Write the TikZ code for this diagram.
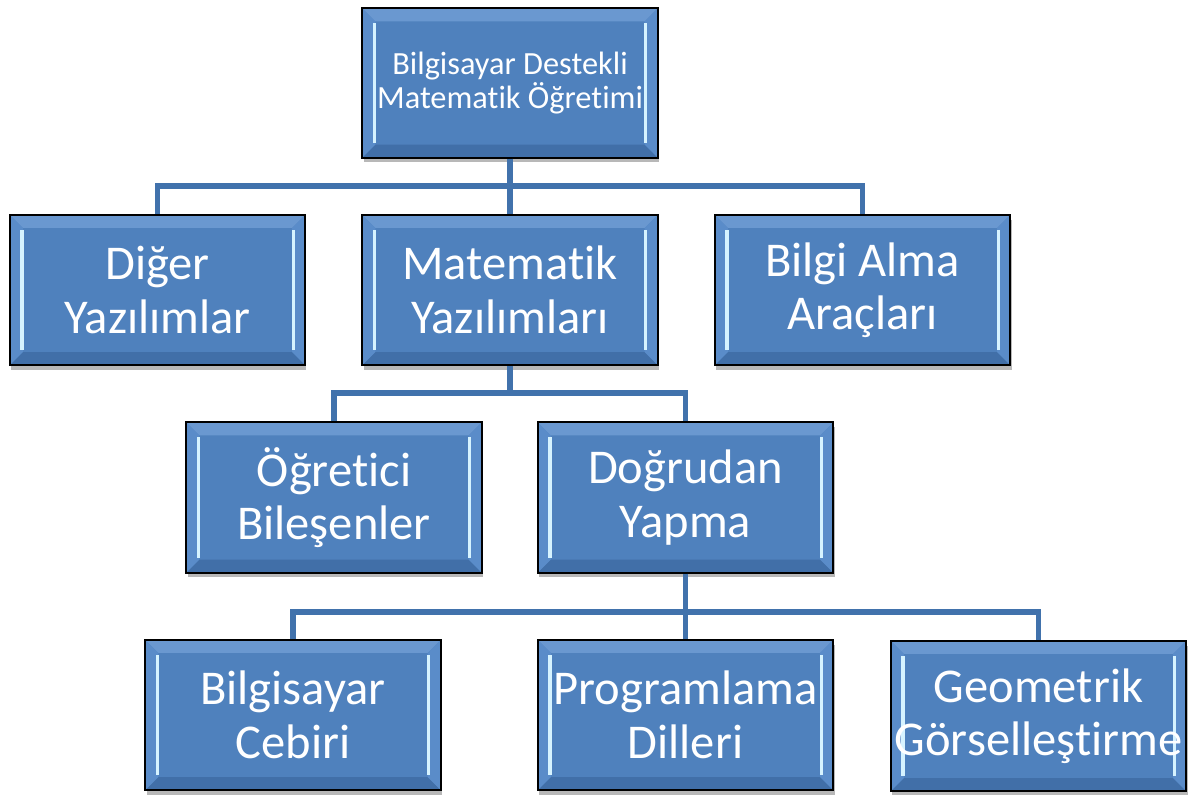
\documentclass[tikz,border=0pt]{standalone}
\usepackage{fontspec}
\setmainfont{Carlito}[Ligatures={NoCommon}]
\usetikzlibrary{shadows}

\definecolor{boxblue}{HTML}{4F81BD}
\definecolor{bevtop}{HTML}{6A98D0}
\definecolor{bevside}{HTML}{5A8CC9}
\definecolor{bevbot}{HTML}{416FA8}
\definecolor{glint}{HTML}{D6F3FF}
\definecolor{linkblue}{HTML}{4172AC}

\newcommand\bigtext{\fontsize{13.8}{15.2}\selectfont}
\newcommand\smalltext{\fontsize{9.2}{9.5}\selectfont}

\tikzset{
  bevelbox/.style={
    rectangle, minimum width=2.95cm, minimum height=1.5cm, inner sep=1pt,
    fill=boxblue, draw=black, line width=0.55pt, text=white,
    align=center, font=\bigtext,
    drop shadow={shadow xshift=0.4pt, shadow yshift=-1.3pt,
                 fill=black, opacity=0.28},
    path picture={
      \coordinate (bvNW) at (path picture bounding box.north west);
      \coordinate (bvNE) at (path picture bounding box.north east);
      \coordinate (bvSW) at (path picture bounding box.south west);
      \coordinate (bvSE) at (path picture bounding box.south east);
      \fill[bevtop]  (bvNW) -- (bvNE) -- ([shift={(-0.13cm,-0.13cm)}]bvNE)
                     -- ([shift={(0.13cm,-0.13cm)}]bvNW) -- cycle;
      \fill[bevbot]  (bvSW) -- (bvSE) -- ([shift={(-0.13cm,0.13cm)}]bvSE)
                     -- ([shift={(0.13cm,0.13cm)}]bvSW) -- cycle;
      \fill[bevside] (bvNW) -- (bvSW) -- ([shift={(0.13cm,0.13cm)}]bvSW)
                     -- ([shift={(0.13cm,-0.13cm)}]bvNW) -- cycle;
      \fill[bevside] (bvNE) -- (bvSE) -- ([shift={(-0.13cm,0.13cm)}]bvSE)
                     -- ([shift={(-0.13cm,-0.13cm)}]bvNE) -- cycle;
      \draw[glint, line width=0.9pt]
        ([shift={(0.12cm,-0.15cm)}]bvNW) -- ([shift={(0.12cm,0.15cm)}]bvSW);
      \draw[glint, line width=0.9pt]
        ([shift={(-0.12cm,-0.15cm)}]bvNE) -- ([shift={(-0.12cm,0.15cm)}]bvSE);
    }
  },
  link/.style={draw=linkblue, line width=1.6pt}
}

\begin{document}
\begin{tikzpicture}[x=0.01cm, y=-0.01cm]
  \useasboundingbox (0,0) rectangle (1189,795);

  % root
  \node[bevelbox, minimum height=1.49cm, font=\smalltext] (root) at (510,83)
    {Bilgisayar Destekli\\Matematik Öğretimi};

  % first level
  \node[bevelbox] (diger)  at (157.5,290) {Diğer\\Yazılımlar};
  \node[bevelbox] (matyaz) at (510,290)   {Matematik\\Yazılımları};
  \node[bevelbox] (bilgi)  at (862.5,290) {Bilgi Alma\\Araçları};

  % second level
  \node[bevelbox] (ogret)  at (334,497.5)   {Öğretici\\Bileşenler};
  \node[bevelbox] (dogru)  at (685.5,497.5) {Doğrudan\\Yapma};

  % third level
  \node[bevelbox] (cebir)  at (293,715)    {Bilgisayar\\Cebiri};
  \node[bevelbox] (prog)   at (685.5,715)  {Programlama\\Dilleri};
  \node[bevelbox] (geo)    at (1038.5,716) {Geometrik\\Görselleştirme};

  % connector junctions
  \coordinate (busA) at (510,186);
  \coordinate (busB) at (510,393);
  \coordinate (busC) at (685.5,612);

  \draw[link] (root.south) -- (busA);
  \draw[link] (busA) -| (diger.north);
  \draw[link] (busA) -- (matyaz.north);
  \draw[link] (busA) -| (bilgi.north);

  \draw[link] (matyaz.south) -- (busB);
  \draw[link] (busB) -| (ogret.north);
  \draw[link] (busB) -| (dogru.north);

  \draw[link] (dogru.south) -- (busC);
  \draw[link] (busC) -| (cebir.north);
  \draw[link] (busC) -- (prog.north);
  \draw[link] (busC) -| (geo.north);
\end{tikzpicture}
\end{document}
